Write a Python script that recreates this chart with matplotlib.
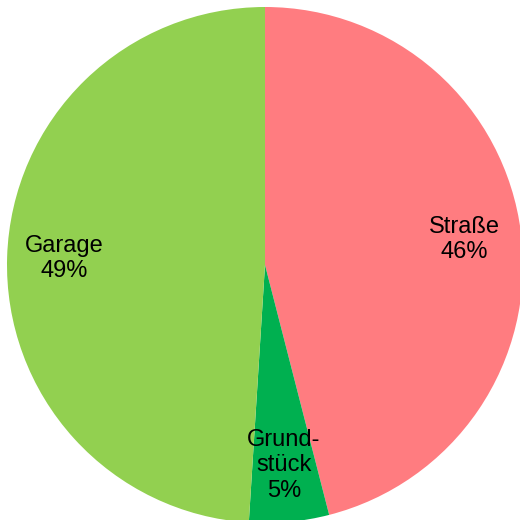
import matplotlib.pyplot as plt

# data
names = ['Straße', 'Grund-\nstück', 'Garage']
shares = [46, 5, 49]
colors = ['#FF7C80', '#00B050', '#92D050']

labels = ['{}\n{}%'.format(n, v) for n, v in zip(names, shares)]

fig = plt.figure(figsize=(5.2, 5.2), dpi=100)
ax = fig.add_axes([7 / 520, -3 / 520, 516 / 520, 516 / 520])

ax.pie(shares, labels=labels, colors=colors, startangle=90, counterclock=False,
       labeldistance=0.78, radius=1.0,
       textprops={'ha': 'center', 'va': 'center', 'fontsize': 17,
                  'family': 'Liberation Sans', 'color': 'black'})
ax.set_xlim(-1, 1)
ax.set_ylim(-1, 1)
ax.set_aspect('equal')
ax.axis('off')

fig.savefig('out.png', dpi=100)
